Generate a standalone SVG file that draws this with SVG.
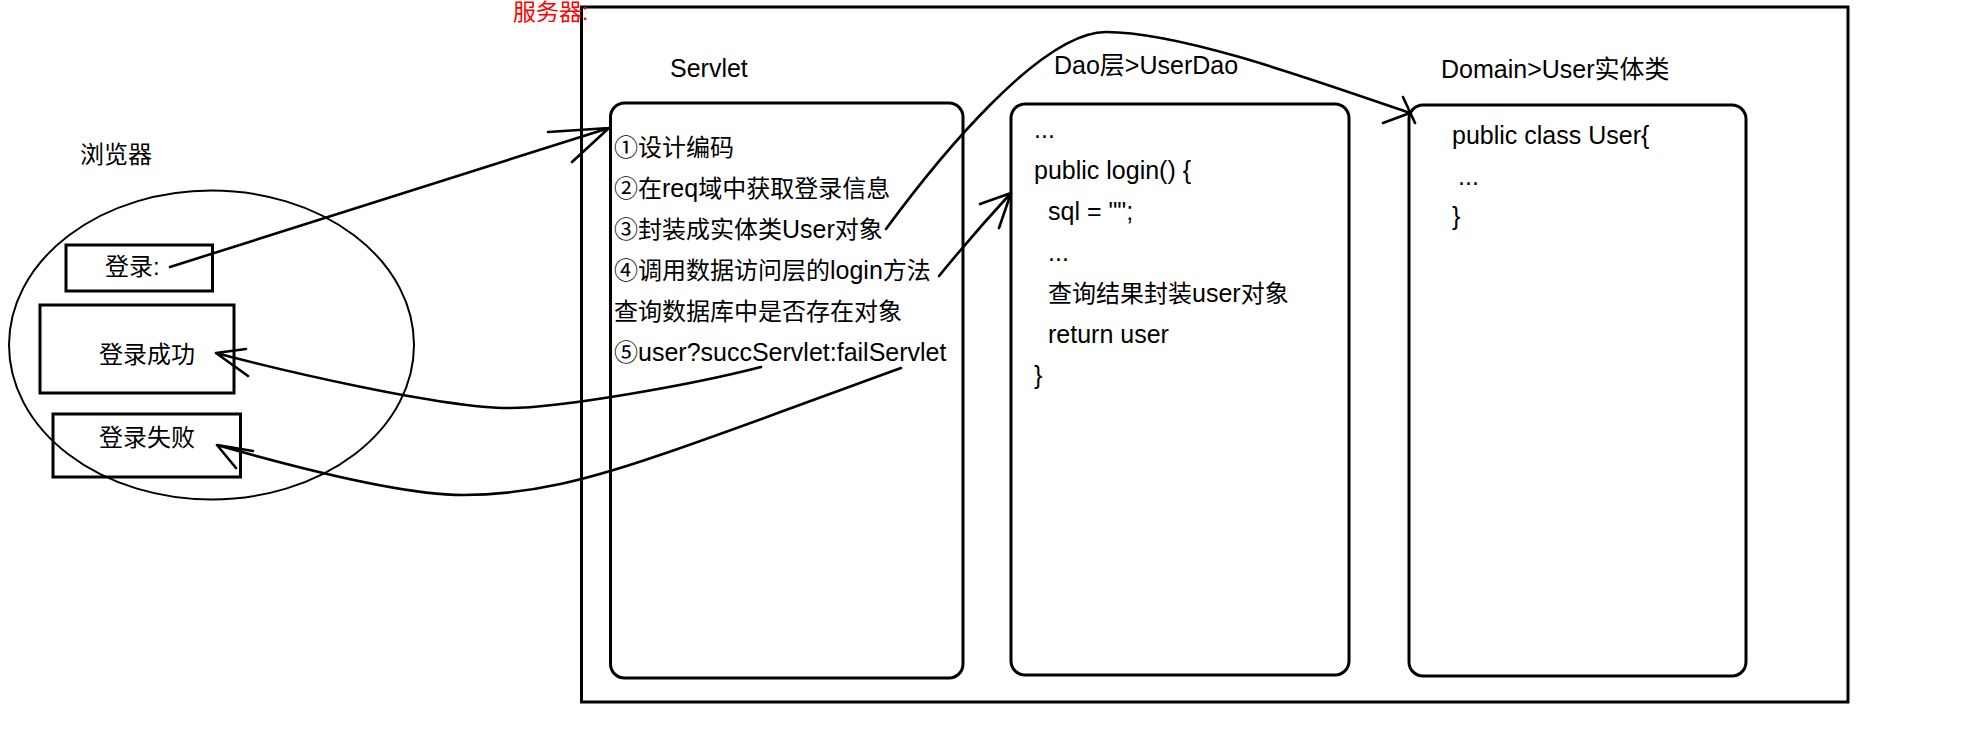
<svg xmlns="http://www.w3.org/2000/svg" width="1978" height="736" viewBox="0 0 1978 736">
<style>
text{font-family:'Liberation Sans','Noto Sans CJK SC',sans-serif;fill:#000;font-size:24px}
.l{font-size:25px}
.ttl{font-size:25px}
.red{fill:#ff0000;font-size:23px}
.box{fill:none;stroke:#000;stroke-width:3}
.rbox{fill:none;stroke:#000;stroke-width:3}
.ell{fill:none;stroke:#000;stroke-width:2}
.con{fill:none;stroke:#000;stroke-width:2.6;stroke-linecap:round;stroke-linejoin:round}
</style>
<rect width="1978" height="736" fill="#fff"/>
<g id="server">
<rect class="box" x="581.5" y="7" width="1266.5" height="695"/>
<text class="red" x="513" y="20">服务器:</text>
</g>
<g id="browser">
<ellipse class="ell" cx="211.5" cy="345" rx="202.5" ry="154.5"/>
<text x="80" y="163">浏览器</text>
</g>
<g id="login">
<rect class="box" x="66" y="245" width="146.5" height="46"/>
<text x="105" y="275">登录:</text>
</g>
<g id="login-success">
<rect class="box" x="40" y="305" width="194" height="88"/>
<text x="99" y="363">登录成功</text>
</g>
<g id="login-fail">
<rect class="box" x="53" y="414" width="187.5" height="63"/>
<text x="99" y="446">登录失败</text>
</g>
<g id="servlet">
<text class="ttl" x="670" y="77">Servlet</text>
<rect class="rbox" x="610.5" y="103" width="352.5" height="575" rx="14" ry="14"/>
<text x="614" y="156">①设计编码</text>
<text x="614" y="197">②在<tspan class="l">req</tspan>域中获取登录信息</text>
<text x="614" y="238">③封装成实体类<tspan class="l">User</tspan>对象</text>
<text x="614" y="279">④调用数据访问层的<tspan class="l">login</tspan>方法</text>
<text x="614" y="320">查询数据库中是否存在对象</text>
<text x="614" y="361">⑤<tspan class="l">user?succServlet:failServlet</tspan></text>
</g>
<g id="dao">
<text class="ttl" x="1054" y="74">Dao层&gt;UserDao</text>
<rect class="rbox" x="1011" y="104" width="338" height="571" rx="14" ry="14"/>
<text class="l" x="1034" y="138">...</text>
<text class="l" x="1034" y="179">public login() {</text>
<text class="l" x="1048" y="220">sql = "";</text>
<text class="l" x="1048" y="261">...</text>
<text x="1048" y="302">查询结果封装<tspan class="l">user</tspan>对象</text>
<text class="l" x="1048" y="343">return user</text>
<text class="l" x="1034" y="384">}</text>
</g>
<g id="domain">
<text class="ttl" x="1441" y="78">Domain&gt;User实体类</text>
<rect class="rbox" x="1409" y="105" width="337" height="571" rx="14" ry="14"/>
<text class="l" x="1452" y="144">public class User{</text>
<text class="l" x="1458" y="185">...</text>
<text class="l" x="1452" y="225">}</text>
</g>
<g id="connectors">
<path class="con" d="M170,267 L609,128 M548,132 L609,128 L572,162"/>
<path class="con" d="M886,229 C936,161 1040,32 1106,32 C1180,32 1311,79 1410,113 M1383,123 L1410,113 M1403,97 L1415,123"/>
<path class="con" d="M939,276 Q975,232 1011,193 M980,204 L1011,193 L999,228"/>
<path class="con" d="M761,367 C691,385 560,408 509,408 C440,408 276,369 216,353 M246,349 L216,353 L248,376"/>
<path class="con" d="M901,368 C821,397 736,429 660,455 C590,479 530,495 463,495 C400,495 287,465 217,445 M253,451 L217,445 L236,468"/>
</g>
</svg>
